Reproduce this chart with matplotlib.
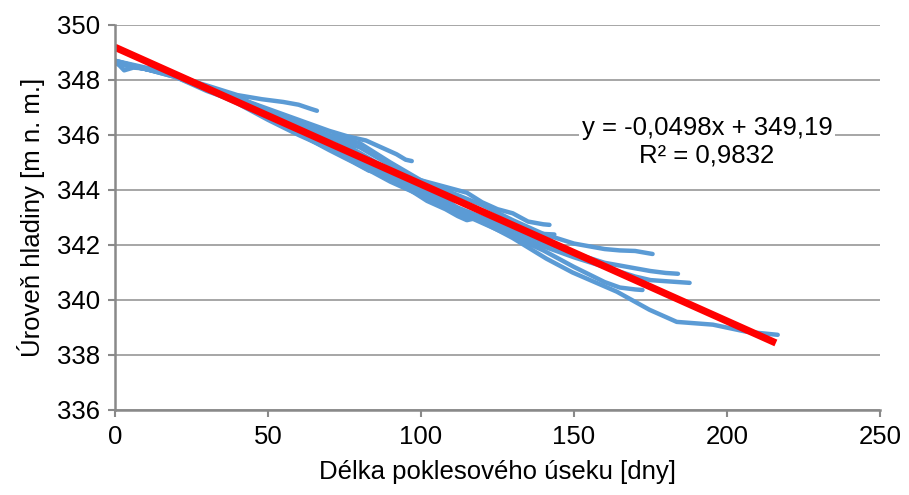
import matplotlib
matplotlib.use("Agg")
import matplotlib.pyplot as plt

plt.rcParams['font.family'] = ['Liberation Sans', 'DejaVu Sans']

# recession curves (days since start, water level m a.s.l.)
x1 = [0, 3, 6, 12, 18, 24, 30, 40, 48, 55, 60, 64, 66]
y1 = [348.7, 348.35, 348.45, 348.4, 348.25, 348.0, 347.8, 347.45, 347.3, 347.2, 347.1, 346.95, 346.88]

x2 = [0, 5, 12, 20, 30, 40, 50, 60, 70, 76, 82, 88, 92, 95, 97]
y2 = [348.65, 348.5, 348.4, 348.2, 347.7, 347.35, 346.95, 346.55, 346.15, 345.95, 345.8, 345.5, 345.3, 345.1, 345.05]

x3 = [0, 10, 20, 30, 40, 50, 60, 70, 80, 90, 100, 110, 115, 120, 125, 130, 135, 140, 142]
y3 = [348.6, 348.4, 348.15, 347.75, 347.35, 346.9, 346.5, 345.95, 345.35, 344.7, 344.35, 344.05, 343.9, 343.55, 343.3, 343.15, 342.85, 342.75, 342.73]

x4 = [0, 10, 20, 30, 40, 50, 60, 70, 80, 90, 100, 110, 115, 120, 125, 130, 135, 140, 143.6]
y4 = [348.7, 348.4, 348.2, 347.75, 347.35, 346.9, 346.35, 345.9, 345.55, 344.9, 344.1, 343.5, 343.1, 342.95, 342.85, 342.6, 342.45, 342.4, 342.38]

x5 = [0, 10, 20, 30, 40, 50, 60, 70, 80, 90, 100, 110, 120, 130, 140, 150, 155, 160, 165, 170, 175.7]
y5 = [348.7, 348.4, 348.2, 347.75, 347.4, 346.85, 346.4, 346.0, 345.7, 345.0, 344.35, 343.9, 343.45, 342.9, 342.4, 342.05, 341.95, 341.85, 341.8, 341.78, 341.67]

x6 = [0, 10, 20, 30, 40, 50, 60, 70, 80, 90, 100, 110, 120, 130, 140, 150, 160, 165, 170, 175, 180, 184]
y6 = [348.65, 348.4, 348.15, 347.7, 347.25, 346.7, 346.2, 345.7, 345.3, 344.6, 344.0, 343.45, 343.0, 342.55, 342.1, 341.7, 341.35, 341.25, 341.15, 341.05, 340.98, 340.95]

x7 = [0, 10, 20, 30, 40, 50, 60, 70, 80, 90, 100, 110, 120, 130, 140, 150, 160, 170, 175, 180, 187.8]
y7 = [348.7, 348.45, 348.2, 347.75, 347.3, 346.75, 346.15, 345.6, 345.05, 344.5, 343.95, 343.4, 342.9, 342.4, 341.95, 341.55, 341.2, 340.85, 340.72, 340.68, 340.62]

x8 = [0, 10, 20, 30, 40, 50, 60, 70, 80, 90, 100, 110, 120, 130, 140, 150, 160, 165, 170, 172.4]
y8 = [348.65, 348.4, 348.15, 347.7, 347.2, 346.6, 346.05, 345.55, 345.0, 344.4, 343.85, 343.3, 342.8, 342.3, 341.8, 341.2, 340.65, 340.45, 340.38, 340.36]

x9 = [0, 10, 20, 30, 40, 50, 60, 70, 80, 90, 100, 110, 119, 130, 141, 149.5, 164, 174.7, 183.6, 195.4, 206.5, 216.6]
y9 = [348.6, 348.4, 348.1, 347.65, 347.15, 346.55, 346.0, 345.5, 344.9, 344.3, 343.8, 343.25, 342.9, 342.25, 341.5, 341.0, 340.3, 339.64, 339.2, 339.1, 338.84, 338.73]

x10 = [0, 10, 20, 30, 40, 50, 60, 70, 78, 83, 88, 95, 102, 108, 112, 115, 117, 114]
y10 = [348.65, 348.4, 348.1, 347.6, 347.2, 346.6, 346.05, 345.45, 345.0, 344.7, 344.6, 344.1, 343.6, 343.3, 343.05, 342.9, 342.95, 343.1]

curves = [(x1, y1), (x2, y2), (x3, y3), (x4, y4), (x5, y5),
          (x6, y6), (x7, y7), (x8, y8), (x9, y9), (x10, y10)]

# linear trend
slope = -0.0498
intercept = 349.19
trend_x = [0, 216]
equation = "y = -0,0498x + 349,19\nR² = 0,9832"

fig = plt.figure(figsize=(9.09, 4.95), dpi=100)
ax = fig.add_axes([0.1265, 0.172, 0.8415, 0.7775])

for cx, cy in curves:
    ax.plot(cx, cy, color='#5B9BD5', lw=3.2, solid_capstyle='round', solid_joinstyle='round')

ax.plot(trend_x, [intercept + slope * v for v in trend_x], color='#FF0000', lw=5.2, solid_capstyle='butt')

ax.text(193.5, 345.75, equation, ha='center', va='center', fontsize=18.5, linespacing=1.15,
        bbox=dict(facecolor='white', edgecolor='none', pad=2))

ax.set_xlim(0, 250)
ax.set_ylim(336, 350)
ax.set_xticks(range(0, 251, 50))
ax.set_yticks(range(336, 351, 2))
ax.grid(axis='y', color='#a6a6a6', lw=1.4)
ax.set_axisbelow(True)
for s in ['top', 'right']:
    ax.spines[s].set_visible(False)
for s in ['left', 'bottom']:
    ax.spines[s].set_color('#898989')
    ax.spines[s].set_linewidth(1.8)
ax.tick_params(direction='out', length=5, width=1.5, color='#898989', labelsize=18.5, pad=6)

ax.set_xlabel('Délka poklesového úseku [dny]', fontsize=18.5, labelpad=8)
ax.set_ylabel('Úroveň hladiny [m n. m.]', fontsize=18.5, labelpad=8)

fig.savefig('out.png', dpi=100)
